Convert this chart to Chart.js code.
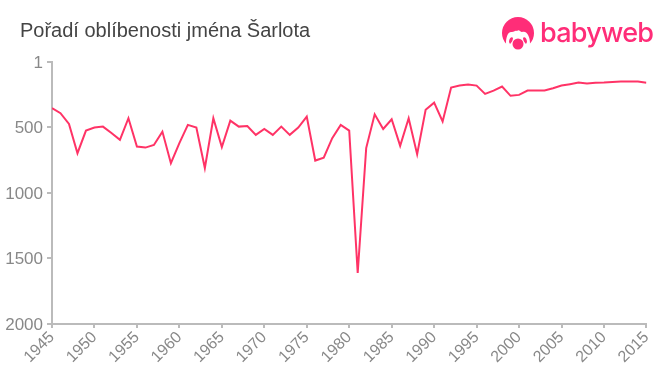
<!DOCTYPE html>
<html><head><meta charset="utf-8">
<script src="https://cdn.jsdelivr.net/npm/chart.js@4"></script>
<style>
html,body{margin:0;padding:0;background:#fff;overflow:hidden}
#wrap{position:relative;width:660px;height:375px}
canvas{position:absolute;left:0;top:0}
#title{position:absolute;left:20px;top:18px;font:20px/24px "Liberation Sans",Arial,sans-serif;color:#444;white-space:nowrap}
#logo{position:absolute;left:502px;top:17px;width:34px;height:34px}
#brand{position:absolute;left:540px;top:15px;font:500 27px/36px "Inter","Lato",sans-serif;color:#ff2d78;letter-spacing:-.75px;white-space:nowrap}
</style></head><body>
<div id="wrap">
<canvas id="c" width="660" height="375"></canvas>
<div id="title">Pořadí oblíbenosti jména Šarlota</div>
<svg id="logo" viewBox="0 0 34 34">
<circle cx="16" cy="16" r="16" fill="#ff2d78"/>
<path d="M4 26 C4 20 6 14 10 15 C12 15 13 13 15 14 C17 12 18 15 20 15 C25 13 28 20 28 26 C28 30 26 34 24 34 L8 34 C6 34 4 30 4 26Z" fill="#fff"/>
<path d="M7 25 C7 21 10 19 11 21 C11 24 9 26 8 27Z M25 25 C25 21 22 19 21 21 C21 24 23 26 24 27Z" fill="#ff2d78"/>
<circle cx="16" cy="27" r="5.5" fill="#ff2d78"/>
</svg>
<div id="brand">babyweb</div>
</div>
<script>
const years=[1945,1946,1947,1948,1949,1950,1951,1952,1953,1954,1955,1956,1957,1958,1959,1960,1961,1962,1963,1964,1965,1966,1967,1968,1969,1970,1971,1972,1973,1974,1975,1976,1977,1978,1979,1980,1981,1982,1983,1984,1985,1986,1987,1988,1989,1990,1991,1992,1993,1994,1995,1996,1997,1998,1999,2000,2001,2002,2003,2004,2005,2006,2007,2008,2009,2010,2011,2012,2013,2014,2015];
const ranks=[353,392,473,697,524,501,494,543,595,430,646,654,634,532,773,620,481,501,810,430,650,448,494,489,557,512,557,494,557,501,417,753,731,582,481,524,1611,658,400,512,438,641,430,705,366,311,455,196,181,173,181,244,219,188,259,252,219,219,219,201,181,170,158,165,160,158,153,150,150,150,160];
const rankTicks=[1,500,1000,1500,2000];
const lineColor='#ff3366', axisColor='#bbbbbb', tickColor='#888888';
new Chart(document.getElementById('c'),{
  type:'line',
  data:{datasets:[{data:years.map((y,i)=>({x:y,y:ranks[i]})),borderColor:lineColor,borderWidth:2,pointRadius:0,tension:0,fill:false}]},
  options:{
    responsive:false,animation:false,
    layout:{padding:{top:62,right:11,left:0,bottom:0}},
    plugins:{legend:{display:false},tooltip:{enabled:false},title:{display:false}},
    scales:{
      x:{type:'linear',min:1945,max:2015,
        afterBuildTicks(s){s.ticks=[];for(let i=0;i<years.length;i+=5)s.ticks.push({value:years[i]});},
        afterFit(s){s.height=51;},
        grid:{display:true,drawOnChartArea:false,drawTicks:true,tickLength:4,color:axisColor,lineWidth:2},
        border:{color:axisColor,width:2},
        ticks:{color:tickColor,font:{family:'"Liberation Sans"',size:16},minRotation:45,maxRotation:45,padding:0,callback:v=>String(v),autoSkip:false}
      },
      y:{type:'linear',reverse:true,min:1,max:2000,
        afterBuildTicks(s){s.ticks=rankTicks.map(v=>({value:v}));},
        afterFit(s){s.width=52;},
        grid:{display:true,drawOnChartArea:false,drawTicks:true,tickLength:5,color:axisColor,lineWidth:2},
        border:{color:axisColor,width:2},
        ticks:{color:tickColor,font:{family:'"Liberation Sans"',size:17},padding:4,labelOffset:1,callback:v=>String(v),autoSkip:false}
      }
    }
  }
});
</script>
</body></html>
